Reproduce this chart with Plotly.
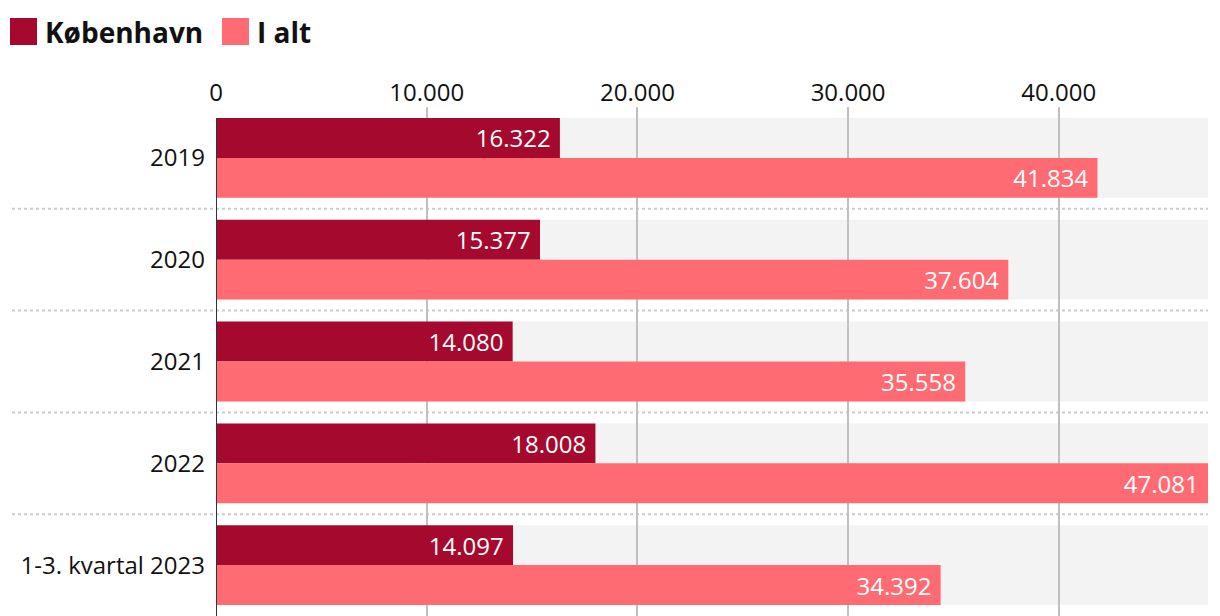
import plotly.graph_objects as go

categories = ["2019", "2020", "2021", "2022", "1-3. kvartal 2023"]
kobenhavn = [16322, 15377, 14080, 18008, 14097]
i_alt = [41834, 37604, 35558, 47081, 34392]
series_names = ["København", "I alt"]
colors = ["#a50a2e", "#ff6b72"]
tick_vals = [0, 10000, 20000, 30000, 40000]

FONT = "Open Sans"
OFF = 8  # page body margin
W, H = 1220 - OFF, 616 - OFF
ML, MR, MT, MB = 216 - OFF, 12, 107 - OFF, 0
PW, PH = W - ML - MR, H - MT - MB
half_band = 0.392


def px_x(x):
    return (x - OFF - ML) / PW


def px_y(y):
    return (H - MB - (y - OFF)) / PH


fig = go.Figure()
for name, vals, col in zip(series_names, [kobenhavn, i_alt], colors):
    fig.add_trace(go.Bar(
        y=categories, x=vals, orientation="h", name=name,
        marker=dict(color=col, line=dict(width=0)),
        texttemplate="%{x:,d}\u00a0", textposition="inside", insidetextanchor="end",
        textfont=dict(family=FONT, size=24, color="white"),
        cliponaxis=False, showlegend=False,
    ))

shapes = []
n = len(categories)
for i in range(n):
    shapes.append(dict(type="rect", xref="paper", yref="y", x0=0, x1=1,
                       y0=i - half_band, y1=i + half_band,
                       fillcolor="#f3f3f3", line=dict(width=0), layer="below"))
for i in range(n - 1):
    shapes.append(dict(type="line", xref="paper", yref="y",
                       x0=px_x(12), x1=1,
                       y0=i + 0.5, y1=i + 0.5,
                       line=dict(color="#cccccc", width=2, dash="dot"), layer="below"))
shapes.append(dict(type="line", xref="x", yref="y", x0=0, x1=0,
                   y0=-half_band, y1=n - 0.5,
                   line=dict(color="#333333", width=2), layer="above"))

# manual legend
annotations = []
legend_pos = [(10, 45), (222, 257)]
for (sx, tx), name, col in zip(legend_pos, series_names, colors):
    shapes.append(dict(type="rect", xref="paper", yref="paper",
                       x0=px_x(sx), x1=px_x(sx + 27),
                       y0=px_y(45), y1=px_y(18),
                       fillcolor=col, line=dict(width=0)))
    annotations.append(dict(xref="paper", yref="paper",
                            x=px_x(tx - 2), y=px_y(32),
                            xanchor="left", yanchor="middle", showarrow=False,
                            text="<b>" + name + "</b>",
                            font=dict(family=FONT, size=28, color="#111111")))

fig.update_layout(
    width=W, height=H,
    margin=dict(l=ML, r=MR, t=MT, b=MB, pad=0),
    barmode="group", bargap=1 - 2 * half_band, bargroupgap=0,
    plot_bgcolor="white", paper_bgcolor="white",
    separators=",.",
    font=dict(family=FONT, size=24, color="#111111"),
    shapes=shapes, annotations=annotations,
    showlegend=False,
)
fig.update_xaxes(side="top", range=[0, 47081], tickvals=tick_vals, tickformat=",d",
                 showgrid=True, gridcolor="#c0c0c0", gridwidth=2,
                 zeroline=False, showline=False, ticks="",
                 tickfont=dict(family=FONT, size=24, color="#111111"))
fig.update_yaxes(categoryorder="array", categoryarray=categories,
                 range=[n - 0.5, -0.5], showgrid=False, zeroline=False, showline=False,
                 ticks="", ticklabelstandoff=10,
                 tickfont=dict(family=FONT, size=24, color="#111111"))

fig.write_html("out.html")
